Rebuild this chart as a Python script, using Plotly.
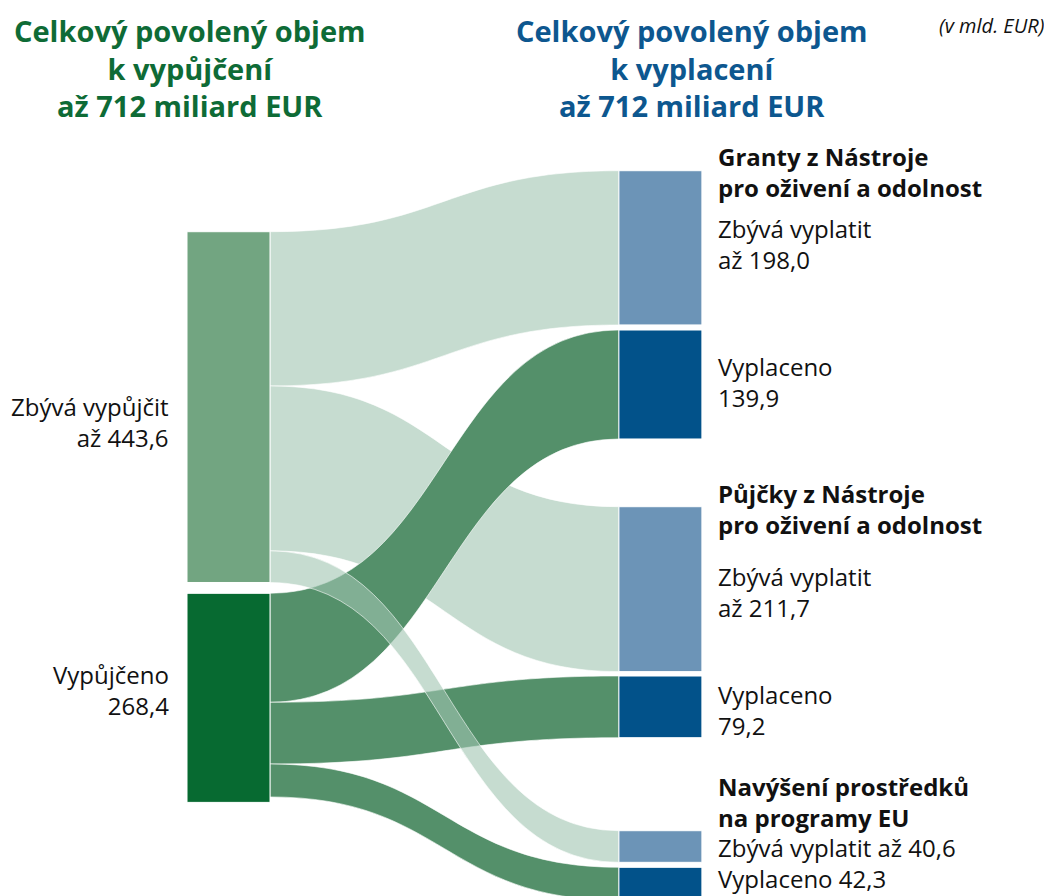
import plotly.graph_objects as go

# ---------------- data ----------------
node_names = ["Zbývá vypůjčit", "Vypůjčeno",
              "Granty – zbývá vyplatit", "Granty – vyplaceno",
              "Půjčky – zbývá vyplatit", "Půjčky – vyplaceno",
              "Navýšení – zbývá vyplatit", "Navýšení – vyplaceno"]
left_totals = [443.6, 268.4]          # labelled totals of the left nodes
link_source = [0, 0, 1, 1, 1, 0]
link_target = [2, 4, 3, 5, 7, 6]
link_value = [198.0, 211.7, 139.9, 79.2, 42.3, 40.6]

# ---------------- layout constants ----------------
OFF = 8                          # page body margin offset (px)
W, H = 1052 - OFF, 896 - OFF     # figure size so it fits the window
KY = 0.779                       # px per bn EUR
THICK = 83
X_LEFT, X_RIGHT = 228.5, 660.4   # node centre x (window px)
node_top_px = [231.7, 593.3, 170.7, 330.0, 506.7, 676.0, 830.7, 867.3, 1100.0]

GREEN_T = "#0e6b36"
BLUE_T = "#0d578f"
TXT = "#111111"
LIGHT_LINK = "rgba(160,197,176,0.6)"
DARK_LINK = "#54906a"

# residual of "Vypůjčeno" not shown as a flow (drawn as an invisible link, first)
residual = round(left_totals[1] - sum(v for s, v in zip(link_source, link_value) if s == 1), 1)
src = [1] + link_source
tgt = [8] + link_target
val = [residual] + link_value

link_colors = ["rgba(255,255,255,0)"] + [LIGHT_LINK if s == 0 else DARK_LINK for s in link_source]
node_colors = ["#72a581", "#076a31",
               "#6c94b7", "#02528a", "#6c94b7", "#02528a", "#6c94b7", "#02528a",
               "rgba(255,255,255,0)"]

# node values as plotly computes them (max of in/out)
n_nodes = 9
vin = [0.0] * n_nodes
vout = [0.0] * n_nodes
for s, t, v in zip(src, tgt, val):
    vout[s] += v
    vin[t] += v
nval = [max(a, b) for a, b in zip(vin, vout)]

right_nodes = list(range(2, 9))
pad = (H - KY * sum(nval[i] for i in right_nodes)) / (len(right_nodes) - 1)

node_x = [(X_LEFT - OFF) / W] * 2 + [(X_RIGHT - OFF) / W] * 7
node_y = [(node_top_px[i] - OFF + nval[i] * KY / 2) / H for i in range(n_nodes)]

fig = go.Figure(go.Sankey(
    arrangement="fixed",
    orientation="h",
    domain=dict(x=[0, 1], y=[0, 1]),
    node=dict(
        label=[""] * n_nodes,
        x=node_x, y=node_y,
        pad=pad, thickness=THICK,
        color=node_colors,
        line=dict(color="white", width=1),
        hoverinfo="none",
    ),
    link=dict(
        source=src, target=tgt, value=val,
        color=link_colors,
        line=dict(color="rgba(255,255,255,0.85)", width=0.7),
        hoverinfo="none",
    ),
))

ASC = 1.069  # Open Sans ascent


def ann(text, x_px, baseline_px, fs, color=TXT, weight=400, xanchor="left",
        align="left", style="normal"):
    top = baseline_px - OFF - ASC * fs - 1
    fig.add_annotation(
        text=text, xref="paper", yref="paper",
        x=(x_px - OFF) / W, y=1 - top / H, xanchor=xanchor, yanchor="top",
        align=align, showarrow=False,
        font=dict(family="Open Sans", size=fs, color=color, weight=weight, style=style),
    )


def fmt(v):
    return f"{v:.1f}".replace(".", ",")


# titles
ann("Celkový povolený objem<br>k vypůjčení<br>až 712 miliard EUR", 190, 41, 29,
    color=GREEN_T, weight=700, xanchor="center", align="center")
ann("Celkový povolený objem<br>k vyplacení<br>až 712 miliard EUR", 692, 41, 29,
    color=BLUE_T, weight=700, xanchor="center", align="center")
ann("(v mld. EUR)", 1046, 32, 20, xanchor="right", align="right", style="italic")

# left labels
ann(f"Zbývá vypůjčit<br>až {fmt(left_totals[0])}", 171, 415, 24,
    xanchor="right", align="right")
ann(f"Vypůjčeno<br>{fmt(left_totals[1])}", 171, 683, 24,
    xanchor="right", align="right")

XR = 716
ann("Granty z Nástroje<br>pro oživení a odolnost", XR, 165, 24, weight=700)
ann(f"Zbývá vyplatit<br>až {fmt(link_value[0])}", XR, 237, 24)
ann(f"Vyplaceno<br>{fmt(link_value[2])}", XR, 375, 24)
ann("Půjčky z Nástroje<br>pro oživení a odolnost", XR, 502, 24, weight=700)
ann(f"Zbývá vyplatit<br>až {fmt(link_value[1])}", XR, 585, 24)
ann(f"Vyplaceno<br>{fmt(link_value[3])}", XR, 703, 24)
ann("Navýšení prostředků<br>na programy EU", XR, 795, 24, weight=700)
ann(f"Zbývá vyplatit až {fmt(link_value[5])}<br>Vyplaceno {fmt(link_value[4])}",
    XR, 856, 24)

fig.update_layout(
    width=W, height=H,
    margin=dict(l=0, r=0, t=0, b=0),
    paper_bgcolor="white", plot_bgcolor="white",
    font=dict(family="Open Sans"),
)

fig.write_html("out.html")
